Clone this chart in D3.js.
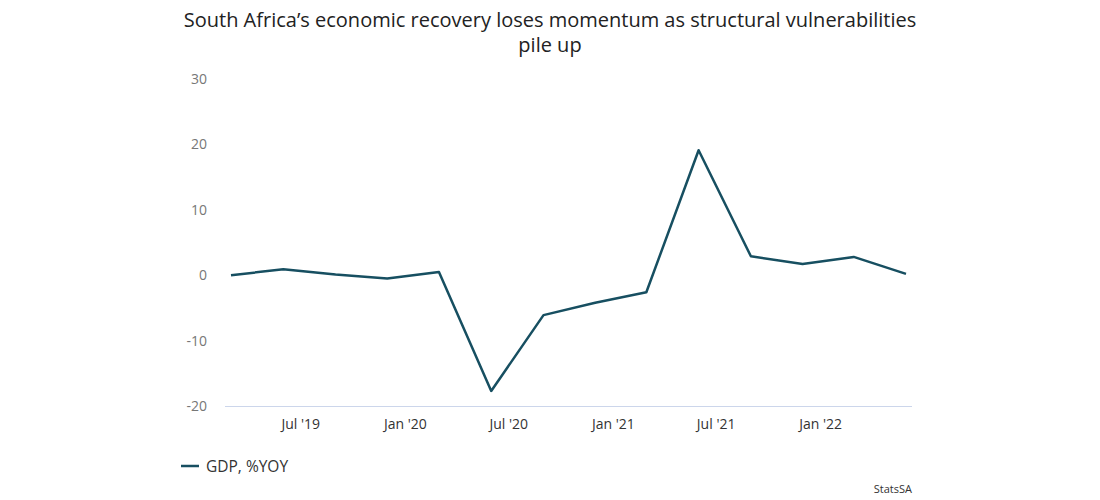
<!DOCTYPE html>
<html>
<head>
<meta charset="utf-8">
<script src="https://cdn.jsdelivr.net/npm/d3@7"></script>
<style>
  body { margin: 0; background: #fff; font-family: 'Open Sans', sans-serif; }
  svg { display: block; }
</style>
</head>
<body>
<script>
/* global d3 */

// quarterly GDP, % y/y (StatsSA)
let dates = ['2019-03-01', '2019-06-01', '2019-09-01', '2019-12-01',
  '2020-03-01', '2020-06-01', '2020-09-01', '2020-12-01',
  '2021-03-01', '2021-06-01', '2021-09-01', '2021-12-01',
  '2022-03-01', '2022-06-01']
let gdpYoy = [0.0, 0.9, 0.1, -0.5, 0.5, -17.7, -6.1, -4.2, -2.6, 19.1, 2.9, 1.7, 2.8, 0.2]
let yTicks = [-20, -10, 0, 10, 20, 30]
let seriesName = 'GDP, %YOY'
let titleLines = ['South Africa\u2019s economic recovery loses momentum as structural vulnerabilities', 'pile up']
let credit = 'StatsSA'

function main () {
  let width = 1100
  let height = 500
  let plot = {left: 225, right: 912, top: 79, bottom: 406}
  let lineColor = '#174f61'

  let parse = d3.timeParse('%Y-%m-%d')
  let points = dates.map((d, i) => ({date: parse(d), value: gdpYoy[i]}))

  let svg = d3.select('body').append('svg')
    .attr('width', width)
    .attr('height', height)

  let x = d3.scaleTime()
    .domain(d3.extent(points, d => d.date))
    .range([231, 906])
  let y = d3.scaleLinear()
    .domain([-20, 30])
    .range([plot.bottom, plot.top])

  // title
  svg.append('g').selectAll('text').data(titleLines).enter()
    .append('text')
    .attr('x', width / 2)
    .attr('y', (d, i) => 27 + i * 25)
    .attr('text-anchor', 'middle')
    .attr('font-size', 20)
    .attr('fill', '#222')
    .text(d => d)

  // y axis labels, no grid
  let yAxis = d3.axisLeft(y).tickValues(yTicks).tickSize(0).tickPadding(0)
    .tickFormat(d => String(d))
  let yG = svg.append('g')
    .attr('transform', `translate(${plot.left - 18},0)`)
    .call(yAxis)
  yG.select('.domain').remove()
  yG.selectAll('text')
    .attr('font-family', 'Open Sans')
    .attr('font-size', 14)
    .attr('fill', '#777')

  // x axis
  let xAxis = d3.axisBottom(x)
    .ticks(d3.timeMonth.every(6))
    .tickFormat(d3.timeFormat("%b '%y"))
    .tickSize(0)
    .tickPadding(13)
  let xG = svg.append('g')
    .attr('transform', `translate(0,${plot.bottom})`)
    .call(xAxis)
  xG.select('.domain').remove()
  xG.selectAll('text')
    .attr('font-family', 'Open Sans')
    .attr('font-size', 14)
    .attr('fill', '#333')
  svg.append('line')
    .attr('x1', plot.left).attr('x2', plot.right)
    .attr('y1', plot.bottom + 0.5).attr('y2', plot.bottom + 0.5)
    .attr('stroke', '#ccd6eb')
    .attr('stroke-width', 1)

  // series
  svg.append('path')
    .datum(points)
    .attr('fill', 'none')
    .attr('stroke', lineColor)
    .attr('stroke-width', 2.5)
    .attr('stroke-linejoin', 'round')
    .attr('d', d3.line().x(d => x(d.date)).y(d => y(d.value)))

  // legend
  let legend = svg.append('g').attr('transform', 'translate(181,466)')
  legend.append('line')
    .attr('x1', 0).attr('x2', 18)
    .attr('stroke', lineColor)
    .attr('stroke-width', 2.5)
  legend.append('text')
    .attr('x', 25).attr('y', 5.5)
    .attr('font-size', 15.5)
    .attr('fill', '#333')
    .text(seriesName)

  // credit
  svg.append('text')
    .attr('x', plot.right).attr('y', 493)
    .attr('text-anchor', 'end')
    .attr('font-size', 11)
    .attr('fill', '#333')
    .text(credit)
}

main()
</script>
</body>
</html>
